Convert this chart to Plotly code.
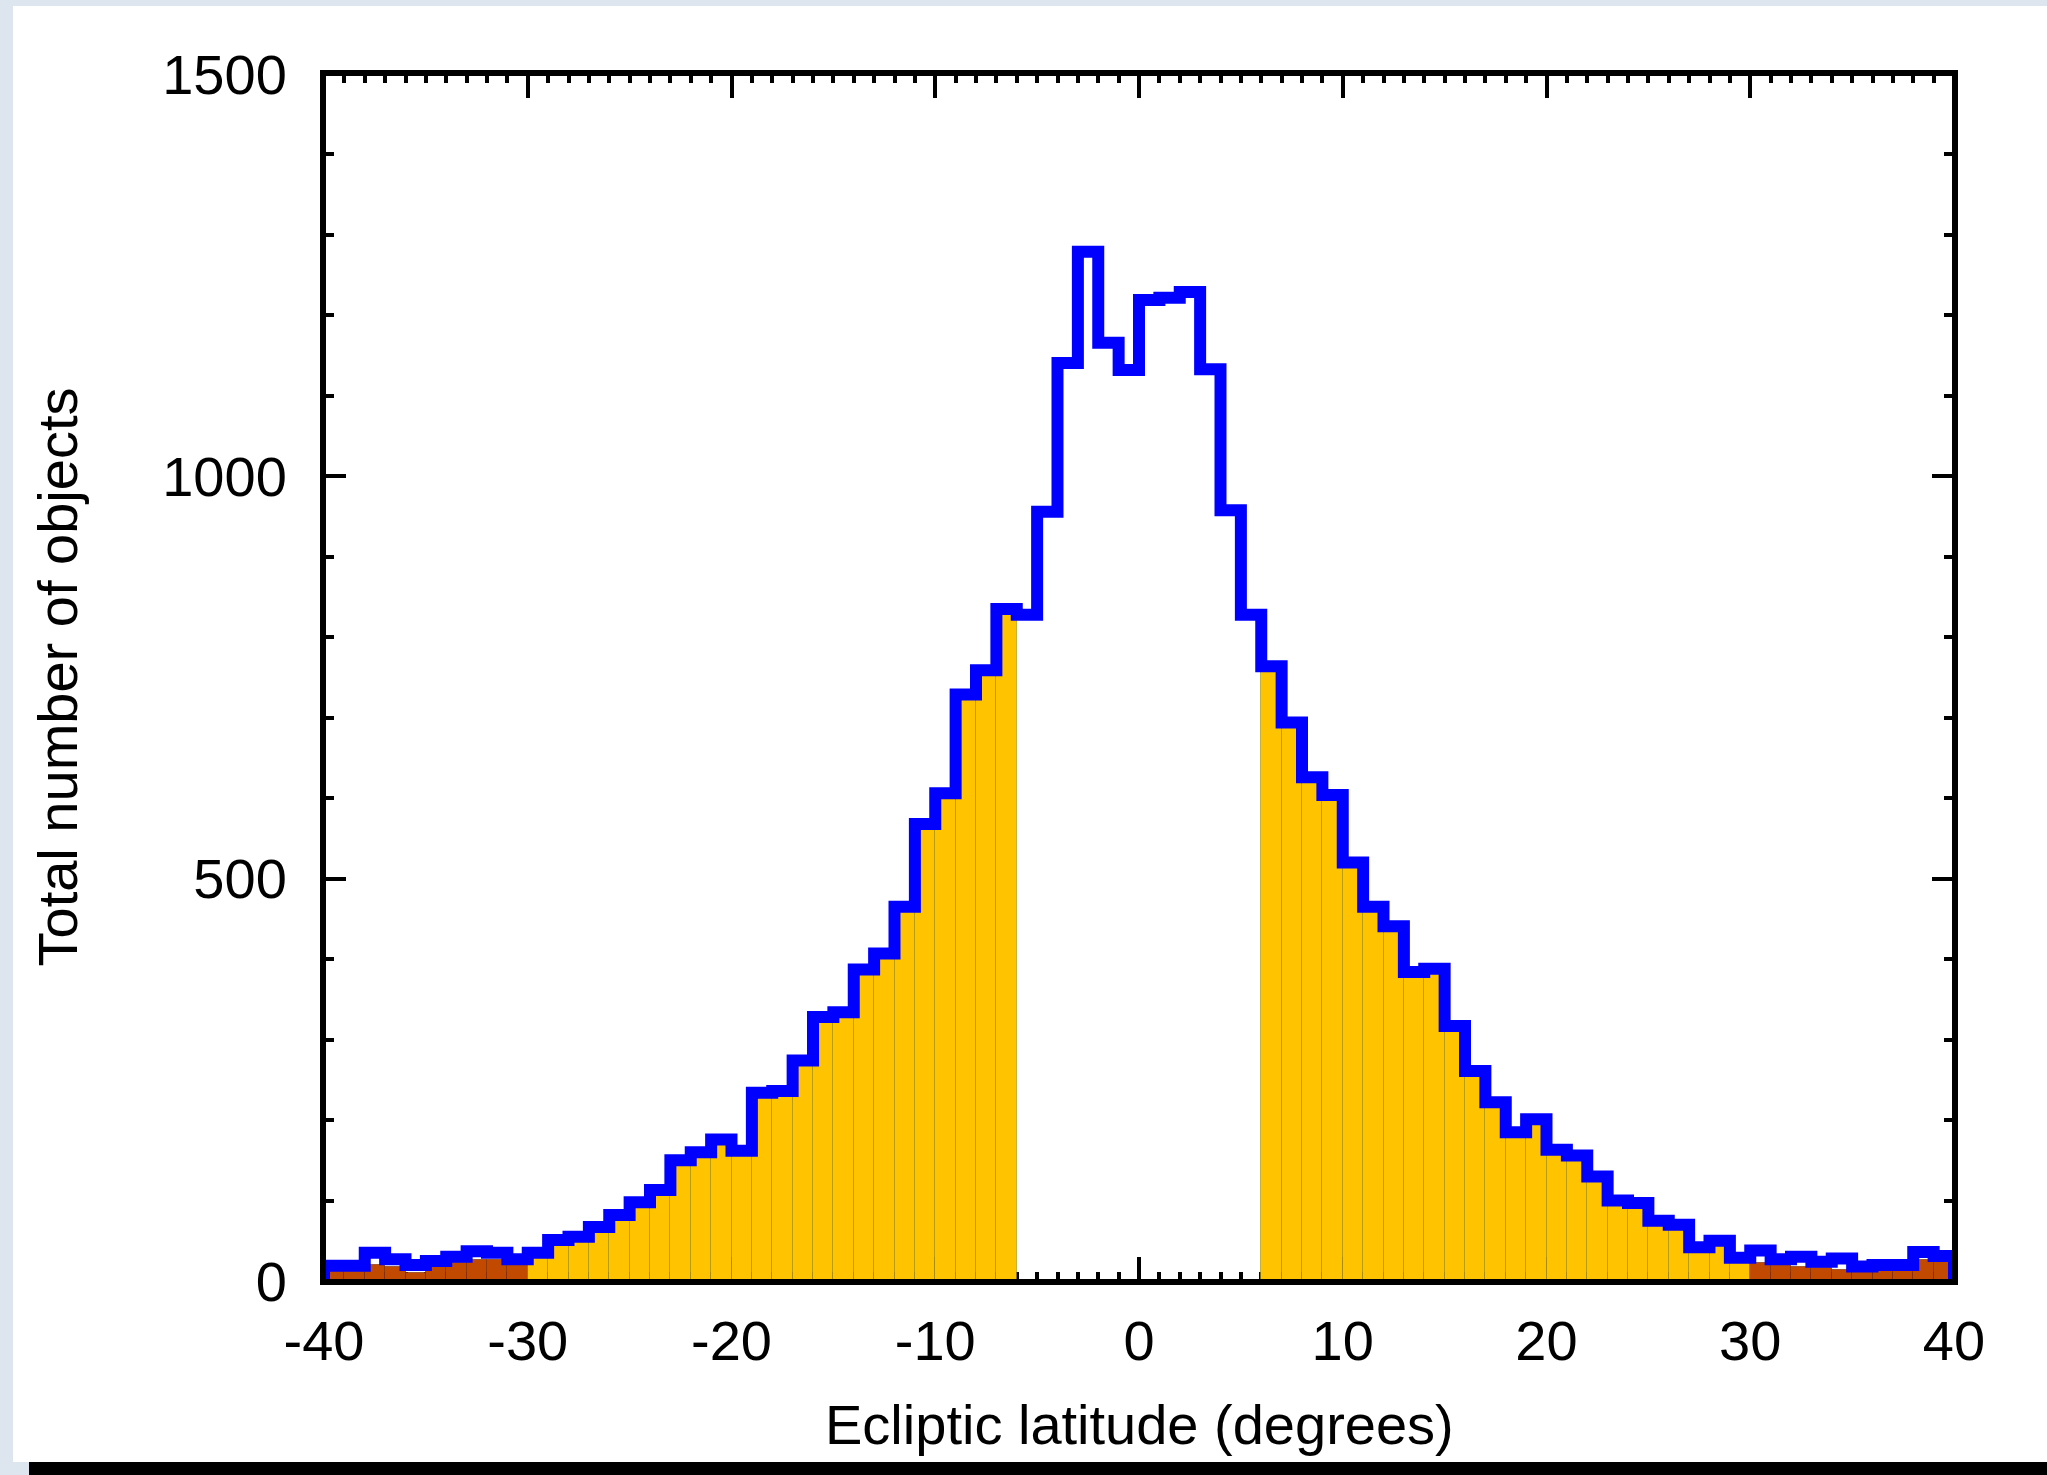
import plotly.graph_objects as go

# ---------------- data ----------------
bin_edges = list(range(-40, 41))          # 1-degree bins from -40 to 40
total_counts = [19, 19, 35, 27, 20, 25, 30, 37, 35, 27,
                35, 51, 55, 67, 82, 98, 113, 150, 160, 176,
                162, 234, 236, 274, 328, 334, 387, 407, 465, 568,
                606, 729, 759, 835, 828, 956, 1141, 1279, 1166, 1132,
                1219, 1222, 1229, 1133, 958, 828, 764, 694, 626, 604,
                520, 465, 441, 384, 388, 317, 261, 222, 185, 201,
                163, 156, 130, 100, 97, 75, 70, 42, 50, 29,
                38, 27, 30, 24, 28, 18, 20, 20, 36, 31]

brown_left_edges = list(range(-40, -30))
brown_left_counts = [12, 12, 20, 18, 10, 17, 22, 26, 26, 20]
brown_right_edges = list(range(30, 40))
brown_right_counts = [22, 20, 18, 16, 14, 11, 12, 12, 26, 23]

yellow_ranges = [(-30, -6), (6, 30)]      # latitude bands filled in yellow

x_tick_vals = [-40, -30, -20, -10, 0, 10, 20, 30, 40]
x_tick_text = ["-40", "-30", "-20", "-10", "0", "10", "20", "30", "40"]
y_tick_vals = [0, 500, 1000, 1500]
y_tick_text = ["0", "500", "1000", "1500"]

x_title = "Ecliptic latitude (degrees)"
y_title = "Total number of objects"

# ---------------- derived ----------------
left_edges = bin_edges[:-1]
yel_x, yel_y = [], []
for e, c in zip(left_edges, total_counts):
    if any(lo <= e < hi for lo, hi in yellow_ranges):
        yel_x.append(e + 0.5)
        yel_y.append(c)

brown_x = [e + 0.5 for e in brown_left_edges + brown_right_edges]
brown_y = brown_left_counts + brown_right_counts

line_x = [bin_edges[0]] + bin_edges + [bin_edges[-1]]
line_y = [0] + total_counts + [total_counts[-1], 0]

FONT = "Liberation Sans, Arial, Helvetica, sans-serif"
W, H = 2047, 1475
L, R, T, B = 324, 93, 74, 194
PW, PH = W - L - R, H - T - B


def px_x(p):
    return (p - L) / PW


def px_y(p):
    return (H - B - p) / PH


fig = go.Figure()
fig.add_trace(go.Bar(x=brown_x, y=brown_y, width=1,
                     marker=dict(color="#C24A00",
                                 line=dict(color="rgba(120,40,0,0.6)", width=1)),
                     showlegend=False, hoverinfo="skip"))
fig.add_trace(go.Bar(x=yel_x, y=yel_y, width=1,
                     marker=dict(color="#FFC300",
                                 line=dict(color="rgba(140,130,0,0.5)", width=1)),
                     showlegend=False, hoverinfo="skip"))
fig.add_trace(go.Scatter(x=line_x, y=line_y, mode="lines",
                         line=dict(color="#0000FF", width=12, shape="hv"),
                         showlegend=False, hoverinfo="skip"))

axis_common = dict(ticks="inside", tickcolor="black", tickwidth=4,
                   showline=True, linecolor="black", linewidth=4,
                   mirror="ticks", showgrid=False, zeroline=False,
                   layer="below traces",
                   tickfont=dict(family=FONT, size=56, color="black"))

fig.update_xaxes(range=[-40, 40], tickmode="array", tickvals=x_tick_vals,
                 ticktext=x_tick_text, ticklen=24, ticklabelstandoff=8,
                 minor=dict(tickmode="linear", tick0=0, dtick=1, ticks="inside",
                            ticklen=9, tickwidth=4, tickcolor="black",
                            showgrid=False),
                 **axis_common)
fig.update_yaxes(range=[0, 1500], tickmode="array", tickvals=y_tick_vals,
                 ticktext=y_tick_text, ticklen=22, ticklabelstandoff=22,
                 minor=dict(tickmode="linear", tick0=0, dtick=100, ticks="inside",
                            ticklen=10, tickwidth=4, tickcolor="black",
                            showgrid=False),
                 **axis_common)

shapes = [
    # white page panel
    dict(type="rect", xref="paper", yref="paper", layer="below",
         x0=px_x(13), x1=px_x(W + 5), y0=px_y(1462), y1=px_y(6),
         fillcolor="white", line=dict(width=0)),
    # black bar at the bottom
    dict(type="rect", xref="paper", yref="paper", layer="below",
         x0=px_x(29), x1=px_x(W + 5), y0=px_y(H + 5), y1=px_y(1462),
         fillcolor="black", line=dict(width=0)),
    # plot frame
    dict(type="rect", xref="paper", yref="paper", layer="above",
         x0=0, x1=1, y0=0, y1=1, line=dict(color="black", width=4)),
]

annotations = [
    dict(text=x_title, xref="paper", yref="paper", x=0.5, y=px_y(1424),
         xanchor="center", yanchor="middle", showarrow=False,
         font=dict(family=FONT, size=56, color="black")),
    dict(text=y_title, xref="paper", yref="paper", x=px_x(57), y=0.5,
         xanchor="center", yanchor="middle", textangle=-90, showarrow=False,
         font=dict(family=FONT, size=56, color="black")),
]

fig.update_layout(width=W, height=H, barmode="overlay", bargap=0,
                  margin=dict(l=L, r=R, t=T, b=B, pad=0, autoexpand=False),
                  paper_bgcolor="#DDE6EF", plot_bgcolor="white",
                  shapes=shapes, annotations=annotations,
                  font=dict(family=FONT, color="black"))

fig.write_html("out.html")
